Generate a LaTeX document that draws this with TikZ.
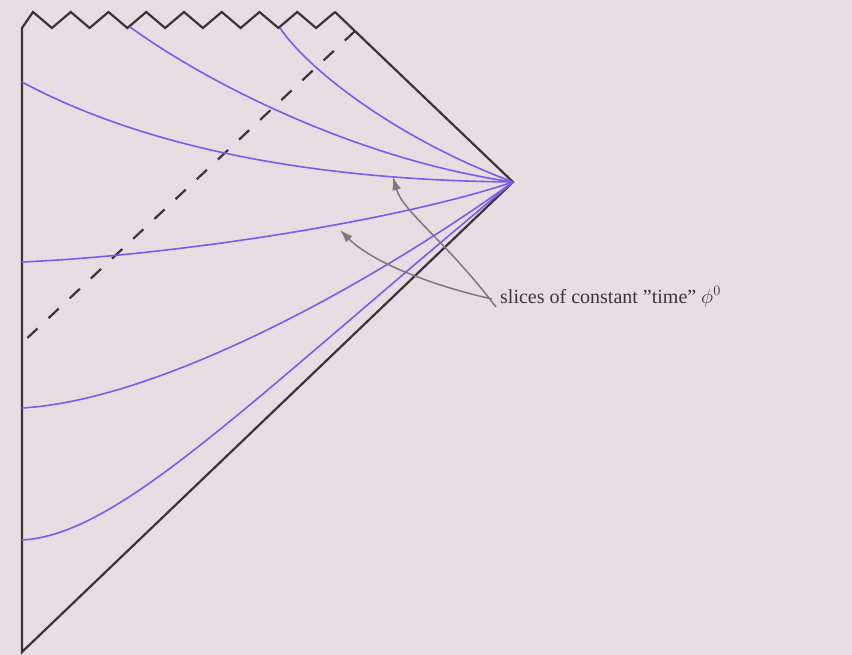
\documentclass[tikz,border=0pt]{standalone}
\usepackage{fontspec}
\setmainfont{Liberation Serif}
\usetikzlibrary{arrows.meta}
\definecolor{bgc}{RGB}{230,222,227}
\definecolor{edgec}{RGB}{58,52,56}
\definecolor{slicec}{RGB}{122,92,236}
\definecolor{arrowc}{RGB}{128,118,124}
\tikzset{
  edge/.style={draw=edgec, line width=2.2pt, line join=miter},
  slice/.style={draw=slicec, line width=1.6pt},
  horizon/.style={draw=edgec, line width=2.2pt, dash pattern=on 14pt off 15pt},
  pointer/.style={draw=arrowc, line width=1.5pt, -{Latex[length=13pt,width=9pt]}},
  lbl/.style={text=edgec, font=\fontsize{20}{24}\selectfont, anchor=west, inner sep=0pt}
}
\begin{document}
\begin{tikzpicture}[x=1pt,y=-1pt]
\fill[bgc] (0,0) rectangle (852,655);
\useasboundingbox (0,0) rectangle (852,655);
% corners
\coordinate (tl) at (22,28);
\coordinate (bl) at (22,652);
\coordinate (v) at (513,182);
\coordinate (pk) at (335,12);
% boundary
\draw[edge] (pk) -- (v) -- (bl) -- (tl)
  -- (33,12) -- (51.9,28) -- (70.75,12) -- (89.6,28) -- (108.5,12) -- (127.4,28)
  -- (146.25,12) -- (165.1,28) -- (184,12) -- (202.9,28) -- (221.75,12) -- (240.6,28)
  -- (259.5,12) -- (278.4,28) -- (297.25,12) -- (316.1,28) -- (pk);
% horizon
\coordinate (h1) at (355,31);
\coordinate (h2) at (22,343);
\draw[horizon] (h1) -- (h2);
% slices
\coordinate (s1) at (130,27);
\coordinate (s2) at (280,28);
\coordinate (s3) at (22,82);
\coordinate (s4) at (22,262);
\coordinate (s5) at (22,408);
\coordinate (s6) at (22,540);
\draw[slice] (s1) .. controls (210,85) and (360,160) .. (v);
\draw[slice] (s2) .. controls (310,72) and (400,140) .. (v);
\draw[slice] (s3) .. controls (130,140) and (290,180) .. (v);
\draw[slice] (s4) .. controls (180,255) and (400,220) .. (v);
\draw[slice] (s5) .. controls (160,400) and (370,285) .. (v);
\draw[slice] (s6) .. controls (120,535) and (250,400) .. (v);
% label and pointers
\node[lbl] (lab) at (500,297) {slices of constant ''time'' $\phi^0$};
\coordinate (t1) at (393,177);
\coordinate (t2) at (340,230);
\draw[pointer] ([xshift=-4pt,yshift=-10pt]lab.west) .. controls (445,240) and (403,212) .. (t1);
\draw[pointer] ([xshift=-8pt,yshift=-2pt]lab.west) .. controls (430,285) and (372,262) .. (t2);
\end{tikzpicture}
\end{document}
